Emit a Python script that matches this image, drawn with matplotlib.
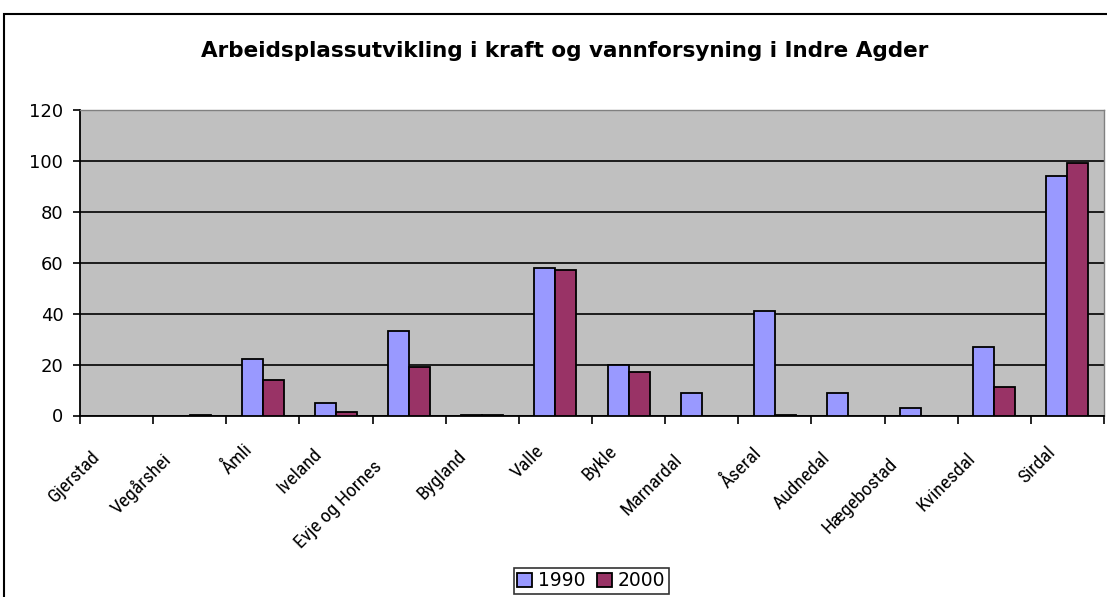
import numpy as np
import matplotlib
matplotlib.use("Agg")
import matplotlib.pyplot as plt
from matplotlib.patches import Rectangle
from matplotlib import font_manager

categories = ["Gjerstad", "Vegårshei", "Åmli", "Iveland", "Evje og Hornes", "Bygland",
              "Valle", "Bykle", "Marnardal", "Åseral", "Audnedal", "Hægebostad",
              "Kvinesdal", "Sirdal"]
v1990 = [np.nan, np.nan, 22, 5, 33, 0.3, 58, 20, 9, 41, 9, 3, 27, 94]
v2000 = [np.nan, 0.3, 14, 1.3, 19, 0.3, 57, 17, np.nan, 0.3, np.nan, np.nan, 11, 99]
series_names = ["1990", "2000"]
yticks = [0, 20, 40, 60, 80, 100, 120]

plt.rcParams['font.family'] = ['DejaVu Sans']


def pick_font(names):
    for n in names:
        try:
            font_manager.findfont(font_manager.FontProperties(family=n),
                                  fallback_to_default=False)
            return n
        except Exception:
            continue
    return 'DejaVu Sans'


narrow = pick_font(['Liberation Sans Narrow', 'Roboto Condensed', 'Open Sans Condensed',
                    'DejaVu Sans Condensed', 'Liberation Sans'])

W, H = 1107, 597
fig = plt.figure(figsize=(W / 100, H / 100), dpi=100)

fig.patches.append(Rectangle((4 / W, -0.05), 1.2, (H - 14) / H + 0.05,
                             transform=fig.transFigure, fill=False,
                             edgecolor='black', linewidth=1.5, zorder=0))

ax = fig.add_axes([80 / W, (H - 415.5) / H, (1104 - 80) / W, 305.5 / H])
ax.set_facecolor('#C0C0C0')

x = np.arange(len(categories))
w = 0.287
ax.bar(x - w / 2, v1990, width=w, color='#9999FF', edgecolor='black',
       linewidth=1.3, label=series_names[0], zorder=3)
ax.bar(x + w / 2, v2000, width=w, color='#993366', edgecolor='black',
       linewidth=1.3, label=series_names[1], zorder=3)

ax.set_xlim(-0.5, len(categories) - 0.5)
ax.set_ylim(0, 120)
ax.set_yticks(yticks)
ax.set_yticklabels([str(t) for t in yticks], fontsize=13)
ax.yaxis.grid(True, color='black', linewidth=1.2, zorder=1)
ax.set_axisbelow(True)

ax.set_xticks(np.arange(-0.5, len(categories), 1.0))
ax.set_xticklabels([])
ax.tick_params(axis='x', length=6, width=1.2, direction='out')
ax.tick_params(axis='y', length=5, width=1.2, direction='out', pad=7)

for s in ['left', 'bottom']:
    ax.spines[s].set_color('black')
    ax.spines[s].set_linewidth(1.3)
for s in ['top', 'right']:
    ax.spines[s].set_color('#808080')
    ax.spines[s].set_linewidth(1.0)

fig.text(565 / W, 1 - 57 / H, "Arbeidsplassutvikling i kraft og vannforsyning i Indre Agder",
         ha='center', va='baseline', fontsize=15.5, fontweight='bold',
         family='DejaVu Sans')

leg = fig.legend(loc='center', bbox_to_anchor=(591 / W, 1 - 581 / H), ncol=2,
                 fontsize=13.5, frameon=True, fancybox=False, edgecolor='black',
                 handlelength=0.8, handleheight=0.8, handletextpad=0.3,
                 columnspacing=0.6, borderpad=0.2)
leg.get_frame().set_linewidth(1.2)

# category labels: condensed, rotated 45 deg, end shifted down-left with length
fig.canvas.draw()
renderer = fig.canvas.get_renderer()
inv = fig.transFigure.inverted()
lab_size = 14
for xi, lab in zip(x, categories):
    tmp = fig.text(0, 0, lab, fontsize=lab_size, family=narrow)
    wpx = tmp.get_window_extent(renderer).width
    tmp.remove()
    cx, cy = ax.transData.transform((xi, 0))
    shift = 0.3 * wpx
    ex = cx - 12 - shift * 0.707
    ey = cy - 18 - shift * 0.707
    fx, fy = inv.transform((ex, ey))
    fig.text(fx, fy, lab, rotation=45, ha='right', va='top',
             rotation_mode='anchor', fontsize=lab_size, family=narrow)

fig.savefig("out.png", dpi=100)
